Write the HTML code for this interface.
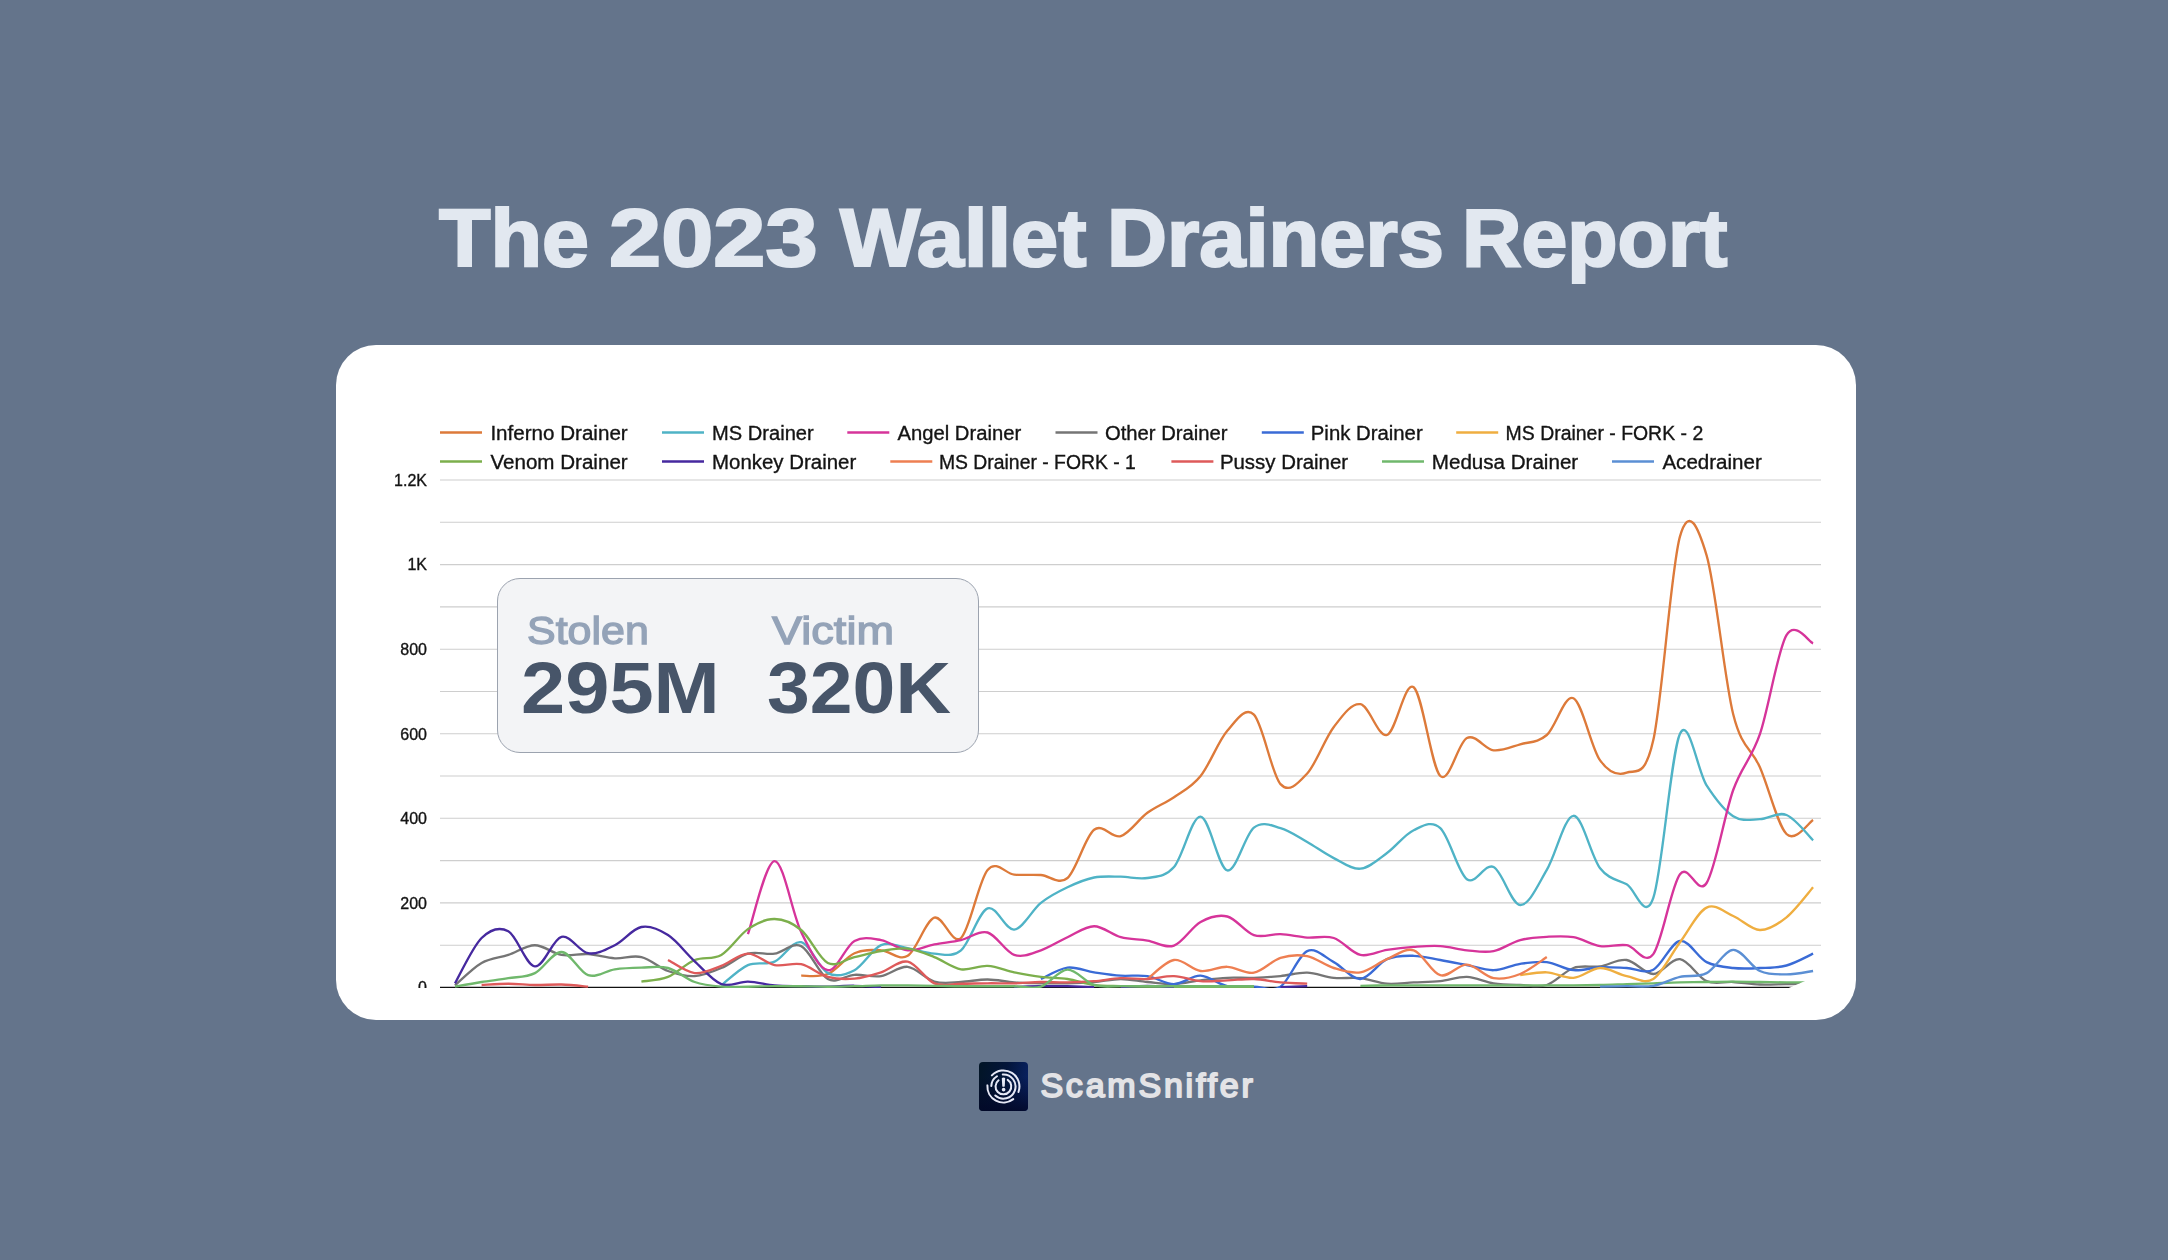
<!DOCTYPE html>
<html lang="en">
<head>
<meta charset="utf-8">
<title>The 2023 Wallet Drainers Report</title>
<style>
html,body{margin:0;padding:0}
body{width:2168px;height:1260px;background:#64748b;position:relative;overflow:hidden;font-family:"Liberation Sans",sans-serif}
#title{position:absolute;left:0;top:0;margin:0;color:#e2e8f0;font-weight:700;font-size:85px}
#card{position:absolute;left:336px;top:345px;width:1520px;height:675px;background:#fff;border-radius:40px}
#chart{position:absolute;left:0;top:0;width:2168px;height:988px;overflow:hidden}
#chart svg{position:absolute;left:0;top:0;filter:blur(0.45px)}
#chart text{font-family:"Liberation Sans",sans-serif;fill:#141414;stroke:#141414;stroke-width:0.35px}
#stats{position:absolute;left:497px;top:578px;width:480px;height:173px;background:#f3f4f6;border:1px solid #9ca3af;border-radius:23px;}
.lab{color:#94a3b8}
.val{color:#475569}
#logo{position:absolute;left:979px;top:1062px;width:48.6px;height:48.6px;border-radius:4px;overflow:hidden;background:linear-gradient(100deg,#021526 0%,#03153a 50%,#0a2468 100%)}
#logo:after{content:"";position:absolute;left:0;top:0;right:0;bottom:0;background:linear-gradient(180deg,rgba(2,8,40,0) 30%,rgba(2,8,40,0.9) 100%)}
#logo svg{position:absolute;left:0;top:0;z-index:1}
.brand{color:#e3e3e6}
</style>
</head>
<body>
<h1 id="title"><span class="" style="position:absolute;left:439.10px;top:196.90px;font-size:81.75px;line-height:81.75px;font-weight:700;white-space:nowrap;transform-origin:0 0;transform:scaleX(1.0321);-webkit-text-stroke:2.20px #e2e8f0;">The</span> <span class="" style="position:absolute;left:608.57px;top:196.90px;font-size:81.75px;line-height:81.75px;font-weight:700;white-space:nowrap;transform-origin:0 0;transform:scaleX(1.1469);-webkit-text-stroke:2.20px #e2e8f0;">2023</span> <span class="" style="position:absolute;left:839.80px;top:196.90px;font-size:81.75px;line-height:81.75px;font-weight:700;white-space:nowrap;transform-origin:0 0;transform:scaleX(1.0367);-webkit-text-stroke:2.20px #e2e8f0;">Wallet</span> <span class="" style="position:absolute;left:1106.61px;top:196.90px;font-size:81.75px;line-height:81.75px;font-weight:700;white-space:nowrap;transform-origin:0 0;transform:scaleX(1.0156);-webkit-text-stroke:2.20px #e2e8f0;">Drainers</span> <span class="" style="position:absolute;left:1462.05px;top:196.90px;font-size:81.75px;line-height:81.75px;font-weight:700;white-space:nowrap;transform-origin:0 0;transform:scaleX(1.0074);-webkit-text-stroke:2.20px #e2e8f0;">Report</span></h1>
<div id="card"></div>
<div id="chart">
<svg width="2168" height="1260" viewBox="0 0 2168 1260">
<defs><clipPath id="cut"><polygon points="0,0 2168,0 2168,977 1814.5,977 1787.5,988.5 0,988.5"/></clipPath></defs>
<g stroke="#cecece" stroke-width="1.1" fill="none">
<line x1="440" x2="1821" y1="480.0" y2="480.0"/>
<line x1="440" x2="1821" y1="522.3" y2="522.3"/>
<line x1="440" x2="1821" y1="564.6" y2="564.6"/>
<line x1="440" x2="1821" y1="606.9" y2="606.9"/>
<line x1="440" x2="1821" y1="649.2" y2="649.2"/>
<line x1="440" x2="1821" y1="691.5" y2="691.5"/>
<line x1="440" x2="1821" y1="733.7" y2="733.7"/>
<line x1="440" x2="1821" y1="776.0" y2="776.0"/>
<line x1="440" x2="1821" y1="818.3" y2="818.3"/>
<line x1="440" x2="1821" y1="860.6" y2="860.6"/>
<line x1="440" x2="1821" y1="902.9" y2="902.9"/>
<line x1="440" x2="1821" y1="945.2" y2="945.2"/>
</g>
<line x1="440" x2="1821" y1="987.6" y2="987.6" stroke="#111" stroke-width="1.6" clip-path="url(#cut)"/>
<g font-size="16" >
<text x="427" y="485.8" text-anchor="end">1.2K</text>
<text x="427" y="570.4" text-anchor="end">1K</text>
<text x="427" y="655.0" text-anchor="end">800</text>
<text x="427" y="739.5" text-anchor="end">600</text>
<text x="427" y="824.1" text-anchor="end">400</text>
<text x="427" y="908.7" text-anchor="end">200</text>
<text x="427" y="993.3" text-anchor="end">0</text>
</g>
<g font-size="20">
<line x1="440.0" y1="432.6" x2="482.0" y2="432.6" stroke="#dd7a3a" stroke-width="2.5"/>
<text x="490.4" y="439.8" textLength="137.3" lengthAdjust="spacingAndGlyphs">Inferno Drainer</text>
<line x1="662.0" y1="432.6" x2="704.0" y2="432.6" stroke="#4fb3c6" stroke-width="2.5"/>
<text x="712.1" y="439.8" textLength="101.6" lengthAdjust="spacingAndGlyphs">MS Drainer</text>
<line x1="847.3" y1="432.6" x2="889.3" y2="432.6" stroke="#d6349a" stroke-width="2.5"/>
<text x="897.5" y="439.8" textLength="123.7" lengthAdjust="spacingAndGlyphs">Angel Drainer</text>
<line x1="1055.5" y1="432.6" x2="1097.5" y2="432.6" stroke="#757575" stroke-width="2.5"/>
<text x="1104.9" y="439.8" textLength="122.6" lengthAdjust="spacingAndGlyphs">Other Drainer</text>
<line x1="1261.8" y1="432.6" x2="1303.8" y2="432.6" stroke="#3a6bd6" stroke-width="2.5"/>
<text x="1310.8" y="439.8" textLength="111.9" lengthAdjust="spacingAndGlyphs">Pink Drainer</text>
<line x1="1456.2" y1="432.6" x2="1498.2" y2="432.6" stroke="#efae40" stroke-width="2.5"/>
<text x="1505.6" y="439.8" textLength="197.6" lengthAdjust="spacingAndGlyphs">MS Drainer - FORK - 2</text>
<line x1="440.0" y1="461.6" x2="482.0" y2="461.6" stroke="#7caf4c" stroke-width="2.5"/>
<text x="490.4" y="468.8" textLength="137.3" lengthAdjust="spacingAndGlyphs">Venom Drainer</text>
<line x1="662.0" y1="461.6" x2="704.0" y2="461.6" stroke="#46299f" stroke-width="2.5"/>
<text x="712.1" y="468.8" textLength="144.1" lengthAdjust="spacingAndGlyphs">Monkey Drainer</text>
<line x1="890.3" y1="461.6" x2="932.3" y2="461.6" stroke="#ee7f52" stroke-width="2.5"/>
<text x="938.9" y="468.8" textLength="197.0" lengthAdjust="spacingAndGlyphs">MS Drainer - FORK - 1</text>
<line x1="1171.4" y1="461.6" x2="1213.4" y2="461.6" stroke="#de5a5a" stroke-width="2.5"/>
<text x="1219.9" y="468.8" textLength="128.2" lengthAdjust="spacingAndGlyphs">Pussy Drainer</text>
<line x1="1382.0" y1="461.6" x2="1424.0" y2="461.6" stroke="#70b86c" stroke-width="2.5"/>
<text x="1431.8" y="468.8" textLength="146.4" lengthAdjust="spacingAndGlyphs">Medusa Drainer</text>
<line x1="1612.0" y1="461.6" x2="1654.0" y2="461.6" stroke="#5b8fd4" stroke-width="2.5"/>
<text x="1662.4" y="468.8" textLength="99.4" lengthAdjust="spacingAndGlyphs">Acedrainer</text>
</g>
<g fill="none" stroke-width="2.35" stroke-linecap="butt" stroke-linejoin="round" clip-path="url(#cut)">
<path d="M801.2 975.7C805.6 975.4 818.9 977.7 827.8 974.0C836.7 970.2 845.6 957.2 854.5 953.2C863.3 949.3 872.2 949.9 881.1 950.3C890.0 950.7 898.8 961.2 907.7 955.8C916.6 950.4 925.5 920.7 934.3 917.7C943.2 914.8 952.1 946.0 961.0 938.0C969.8 930.1 978.7 880.5 987.6 869.9C996.5 859.4 1005.4 873.7 1014.2 874.6C1023.1 875.4 1032.0 874.4 1040.9 875.0C1049.7 875.6 1058.6 885.5 1067.5 878.0C1076.4 870.4 1085.2 836.7 1094.1 829.8C1103.0 822.8 1111.9 838.9 1120.8 836.1C1129.6 833.3 1138.5 819.3 1147.4 812.8C1156.3 806.4 1165.1 803.3 1174.0 797.2C1182.9 791.1 1191.8 787.1 1200.6 776.0C1209.5 765.0 1218.4 741.0 1227.3 730.8C1236.1 720.6 1245.0 705.8 1253.9 714.7C1262.8 723.6 1271.7 774.3 1280.5 784.1C1289.4 793.9 1298.3 783.0 1307.2 773.5C1316.0 764.0 1324.9 738.6 1333.8 727.0C1342.7 715.4 1351.5 702.8 1360.4 704.2C1369.3 705.5 1378.2 737.8 1387.0 735.0C1395.9 732.2 1404.8 680.4 1413.7 687.2C1422.6 694.1 1431.4 767.6 1440.3 776.0C1449.2 784.5 1458.1 742.3 1466.9 738.0C1475.8 733.7 1484.7 749.2 1493.6 750.3C1502.4 751.3 1511.3 746.9 1520.2 744.3C1529.1 741.8 1538.0 742.7 1546.8 735.0C1555.7 727.3 1564.6 694.0 1573.5 698.2C1582.3 702.5 1591.2 748.0 1600.1 760.4C1609.0 772.8 1617.8 776.0 1626.7 772.7C1635.6 769.3 1644.5 779.5 1653.3 740.1C1662.2 700.7 1671.1 567.1 1680.0 536.3C1688.9 505.5 1697.7 525.6 1706.6 555.3C1715.5 585.0 1724.4 679.0 1733.2 714.3C1742.1 749.6 1751.0 747.2 1759.9 767.2C1768.7 787.1 1777.6 825.2 1786.5 834.0C1795.4 842.8 1808.7 822.4 1813.1 820.0" stroke="#dd7a3a"/>
<path d="M721.3 985.4C725.7 982.0 739.1 969.0 747.9 965.1C756.8 961.1 765.7 965.5 774.6 961.7C783.4 957.9 792.3 940.3 801.2 942.2C810.1 944.2 818.9 968.5 827.8 973.1C836.7 977.8 845.6 974.8 854.5 970.2C863.3 965.5 872.2 948.9 881.1 945.2C890.0 941.5 898.8 946.8 907.7 948.2C916.6 949.6 925.5 953.3 934.3 953.7C943.2 954.0 952.1 957.8 961.0 950.3C969.8 942.7 978.7 911.9 987.6 908.4C996.5 905.0 1005.4 930.5 1014.2 929.6C1023.1 928.6 1032.0 910.0 1040.9 902.9C1049.7 895.9 1058.6 891.5 1067.5 887.3C1076.4 883.0 1085.2 879.3 1094.1 877.5C1103.0 875.8 1111.9 876.6 1120.8 876.7C1129.6 876.8 1138.5 879.6 1147.4 878.0C1156.3 876.3 1165.1 877.2 1174.0 867.0C1182.9 856.8 1191.8 816.1 1200.6 816.6C1209.5 817.2 1218.4 868.5 1227.3 870.4C1236.1 872.2 1245.0 834.7 1253.9 827.6C1262.8 820.6 1271.7 825.7 1280.5 828.1C1289.4 830.5 1298.3 837.0 1307.2 842.0C1316.0 847.0 1324.9 853.7 1333.8 858.1C1342.7 862.5 1351.5 869.5 1360.4 868.7C1369.3 867.8 1378.2 859.4 1387.0 853.0C1395.9 846.6 1404.8 834.3 1413.7 830.2C1422.6 826.0 1431.4 819.9 1440.3 828.1C1449.2 836.2 1458.1 872.8 1466.9 879.2C1475.8 885.7 1484.7 862.7 1493.6 867.0C1502.4 871.3 1511.3 904.5 1520.2 905.0C1529.1 905.5 1538.0 884.8 1546.8 869.9C1555.7 855.1 1564.6 816.1 1573.5 815.8C1582.3 815.5 1591.2 856.8 1600.1 868.2C1609.0 879.7 1617.8 879.4 1626.7 884.3C1635.6 889.2 1644.5 922.9 1653.3 897.8C1662.2 872.8 1671.1 752.5 1680.0 733.8C1688.9 715.0 1697.7 771.6 1706.6 785.4C1715.5 799.1 1724.4 810.6 1733.2 816.2C1742.1 821.9 1751.0 819.4 1759.9 819.2C1768.7 819.0 1777.6 811.4 1786.5 815.0C1795.4 818.5 1808.7 836.1 1813.1 840.3" stroke="#4fb3c6"/>
<path d="M747.9 934.2C752.4 922.0 765.7 861.4 774.6 861.1C783.4 860.7 792.3 913.9 801.2 932.1C810.1 950.3 818.9 968.7 827.8 970.2C836.7 971.6 845.6 946.0 854.5 941.0C863.3 936.0 872.2 938.6 881.1 940.1C890.0 941.7 898.8 949.6 907.7 950.3C916.6 951.0 925.5 946.1 934.3 944.4C943.2 942.7 952.1 942.1 961.0 940.1C969.8 938.2 978.7 930.1 987.6 932.5C996.5 935.0 1005.4 952.0 1014.2 954.9C1023.1 957.9 1032.0 953.2 1040.9 950.3C1049.7 947.3 1058.6 941.2 1067.5 937.2C1076.4 933.2 1085.2 926.2 1094.1 926.2C1103.0 926.2 1111.9 934.8 1120.8 937.2C1129.6 939.6 1138.5 939.1 1147.4 940.6C1156.3 942.0 1165.1 948.7 1174.0 945.6C1182.9 942.5 1191.8 926.8 1200.6 922.0C1209.5 917.1 1218.4 914.3 1227.3 916.5C1236.1 918.6 1245.0 932.1 1253.9 935.1C1262.8 938.0 1271.7 933.8 1280.5 934.2C1289.4 934.6 1298.3 937.0 1307.2 937.6C1316.0 938.2 1324.9 935.1 1333.8 938.0C1342.7 940.9 1351.5 953.0 1360.4 954.9C1369.3 956.9 1378.2 951.2 1387.0 949.9C1395.9 948.5 1404.8 947.5 1413.7 946.9C1422.6 946.3 1431.4 945.5 1440.3 946.1C1449.2 946.6 1458.1 949.4 1466.9 950.3C1475.8 951.1 1484.7 952.8 1493.6 951.1C1502.4 949.4 1511.3 942.5 1520.2 940.1C1529.1 937.7 1538.0 937.2 1546.8 936.8C1555.7 936.3 1564.6 935.6 1573.5 937.2C1582.3 938.7 1591.2 944.7 1600.1 946.1C1609.0 947.4 1617.8 943.9 1626.7 945.2C1635.6 946.5 1644.5 965.9 1653.3 954.1C1662.2 942.2 1671.1 886.0 1680.0 874.2C1688.9 862.3 1697.7 897.1 1706.6 883.0C1715.5 869.0 1724.4 814.8 1733.2 790.0C1742.1 765.2 1751.0 760.0 1759.9 734.2C1768.7 708.4 1777.6 650.4 1786.5 635.2C1795.4 620.1 1808.7 641.9 1813.1 643.3" stroke="#d6349a"/>
<path d="M455.0 985.4C459.4 981.6 472.8 968.0 481.6 963.0C490.5 957.9 499.4 957.9 508.3 954.9C517.1 952.0 526.0 945.2 534.9 945.2C543.8 945.2 552.6 953.5 561.5 954.9C570.4 956.4 579.3 953.5 588.1 954.1C597.0 954.7 605.9 957.8 614.8 958.3C623.7 958.8 632.5 954.9 641.4 957.1C650.3 959.2 659.2 967.8 668.0 971.0C676.9 974.2 685.8 976.6 694.7 976.1C703.5 975.6 712.4 971.8 721.3 968.0C730.2 964.3 739.1 956.1 747.9 953.7C756.8 951.3 765.7 954.9 774.6 953.7C783.4 952.4 792.3 941.8 801.2 946.1C810.1 950.3 818.9 974.2 827.8 979.0C836.7 983.8 845.6 975.3 854.5 974.8C863.3 974.3 872.2 977.4 881.1 976.1C890.0 974.7 898.8 965.9 907.7 966.8C916.6 967.7 925.5 979.0 934.3 981.6C943.2 984.1 952.1 982.4 961.0 982.0C969.8 981.6 978.7 979.4 987.6 979.5C996.5 979.5 1005.4 981.8 1014.2 982.4C1023.1 983.1 1032.0 983.1 1040.9 983.3C1049.7 983.4 1058.6 983.5 1067.5 983.3C1076.4 983.1 1085.2 982.7 1094.1 982.0C1103.0 981.3 1111.9 979.0 1120.8 979.0C1129.6 979.0 1138.5 981.2 1147.4 982.0C1156.3 982.8 1165.1 984.4 1174.0 984.1C1182.9 983.8 1191.8 981.4 1200.6 980.3C1209.5 979.3 1218.4 978.2 1227.3 977.8C1236.1 977.4 1245.0 978.1 1253.9 977.8C1262.8 977.5 1271.7 976.9 1280.5 976.1C1289.4 975.2 1298.3 972.4 1307.2 972.7C1316.0 973.0 1324.9 976.9 1333.8 977.8C1342.7 978.7 1351.5 977.2 1360.4 978.2C1369.3 979.2 1378.2 983.0 1387.0 983.7C1395.9 984.4 1404.8 982.8 1413.7 982.4C1422.6 982.0 1431.4 982.1 1440.3 981.2C1449.2 980.2 1458.1 976.6 1466.9 976.9C1475.8 977.3 1484.7 981.9 1493.6 983.3C1502.4 984.6 1511.3 984.7 1520.2 985.0C1529.1 985.2 1538.0 987.8 1546.8 985.0C1555.7 982.1 1564.6 971.1 1573.5 968.0C1582.3 964.9 1591.2 967.7 1600.1 966.4C1609.0 965.0 1617.8 958.7 1626.7 960.0C1635.6 961.3 1644.5 974.1 1653.3 974.0C1662.2 973.8 1671.1 958.0 1680.0 959.2C1688.9 960.4 1697.7 977.4 1706.6 981.2C1715.5 985.0 1724.4 981.4 1733.2 982.0C1742.1 982.6 1751.0 984.2 1759.9 984.5C1768.7 984.9 1777.6 984.2 1786.5 984.1C1795.4 984.0 1808.7 984.1 1813.1 984.1" stroke="#757575"/>
<path d="M1040.9 979.0C1045.3 977.1 1058.6 968.8 1067.5 967.6C1076.4 966.5 1085.2 970.9 1094.1 972.3C1103.0 973.6 1111.9 975.0 1120.8 975.7C1129.6 976.3 1138.5 974.7 1147.4 976.1C1156.3 977.5 1165.1 984.2 1174.0 984.1C1182.9 984.0 1191.8 975.3 1200.6 975.7C1209.5 976.0 1218.4 984.4 1227.3 986.2C1236.1 988.1 1245.0 986.6 1253.9 986.7C1262.8 986.7 1271.7 992.6 1280.5 986.7C1289.4 980.7 1298.3 955.2 1307.2 951.1C1316.0 947.0 1324.9 957.5 1333.8 962.1C1342.7 966.8 1351.5 979.5 1360.4 979.0C1369.3 978.5 1378.2 963.0 1387.0 959.2C1395.9 955.3 1404.8 955.6 1413.7 955.8C1422.6 955.9 1431.4 958.5 1440.3 960.0C1449.2 961.6 1458.1 963.4 1466.9 965.1C1475.8 966.8 1484.7 970.4 1493.6 970.2C1502.4 969.9 1511.3 965.2 1520.2 963.8C1529.1 962.5 1538.0 961.1 1546.8 962.1C1555.7 963.2 1564.6 969.3 1573.5 970.2C1582.3 971.0 1591.2 967.6 1600.1 967.2C1609.0 966.8 1617.8 967.6 1626.7 968.0C1635.6 968.5 1644.5 974.2 1653.3 969.7C1662.2 965.2 1671.1 942.2 1680.0 941.0C1688.9 939.7 1697.7 957.6 1706.6 962.1C1715.5 966.6 1724.4 967.1 1733.2 968.0C1742.1 969.0 1751.0 968.5 1759.9 968.0C1768.7 967.6 1777.6 967.9 1786.5 965.5C1795.4 963.1 1808.7 955.6 1813.1 953.7" stroke="#3a6bd6"/>
<path d="M1520.2 975.2C1524.6 974.7 1538.0 971.9 1546.8 972.3C1555.7 972.7 1564.6 978.5 1573.5 977.8C1582.3 977.1 1591.2 968.3 1600.1 968.0C1609.0 967.8 1617.8 974.2 1626.7 976.1C1635.6 977.9 1644.5 984.7 1653.3 979.0C1662.2 973.4 1671.1 954.2 1680.0 942.2C1688.9 930.3 1697.7 911.9 1706.6 907.6C1715.5 903.2 1724.4 912.3 1733.2 916.0C1742.1 919.8 1751.0 929.8 1759.9 930.0C1768.7 930.2 1777.6 924.4 1786.5 917.3C1795.4 910.2 1808.7 892.3 1813.1 887.3" stroke="#efae40"/>
<path d="M641.4 981.6C645.8 980.8 659.2 980.5 668.0 976.9C676.9 973.3 685.8 963.7 694.7 960.0C703.5 956.3 712.4 960.1 721.3 954.9C730.2 949.8 739.1 935.1 747.9 929.1C756.8 923.1 765.7 918.8 774.6 919.0C783.4 919.1 792.3 922.7 801.2 930.0C810.1 937.3 818.9 958.5 827.8 963.0C836.7 967.5 845.6 959.0 854.5 957.1C863.3 955.1 872.2 952.5 881.1 951.1C890.0 949.7 898.8 947.6 907.7 948.6C916.6 949.6 925.5 953.6 934.3 957.1C943.2 960.5 952.1 967.8 961.0 969.3C969.8 970.8 978.7 965.4 987.6 965.9C996.5 966.4 1005.4 970.4 1014.2 972.3C1023.1 974.1 1032.0 975.8 1040.9 976.9C1049.7 978.1 1058.6 977.7 1067.5 979.0C1076.4 980.4 1085.2 983.8 1094.1 985.0C1103.0 986.2 1111.9 985.9 1120.8 986.2C1129.6 986.5 1138.5 986.6 1147.4 986.7C1156.3 986.7 1165.1 986.7 1174.0 986.7C1182.9 986.7 1191.8 986.7 1200.6 986.7C1209.5 986.7 1218.4 986.7 1227.3 986.7C1236.1 986.7 1249.5 986.7 1253.9 986.7" stroke="#7caf4c"/>
<path d="M455.0 983.3C459.4 975.7 472.8 946.7 481.6 938.0C490.5 929.4 499.4 926.5 508.3 931.3C517.1 936.0 526.0 965.4 534.9 966.4C543.8 967.3 552.6 938.9 561.5 936.8C570.4 934.6 579.3 951.8 588.1 953.2C597.0 954.7 605.9 949.6 614.8 945.2C623.7 940.8 632.5 928.7 641.4 927.0C650.3 925.3 659.2 929.4 668.0 935.1C676.9 940.8 685.8 953.1 694.7 961.3C703.5 969.5 712.4 980.7 721.3 984.1C730.2 987.5 739.1 981.4 747.9 981.6C756.8 981.8 765.7 984.6 774.6 985.4C783.4 986.2 792.3 986.0 801.2 986.2C810.1 986.4 818.9 986.7 827.8 986.7C836.7 986.6 845.6 985.7 854.5 985.8C863.3 985.9 876.6 986.9 881.1 987.1" stroke="#46299f"/>
<path d="M1014.2 987.1C1018.7 986.9 1032.0 986.4 1040.9 986.2C1049.7 986.1 1058.6 986.1 1067.5 986.2C1076.4 986.4 1089.7 986.9 1094.1 987.1" stroke="#46299f"/>
<path d="M1120.8 987.1C1125.2 986.9 1138.5 985.8 1147.4 985.8C1156.3 985.8 1169.6 986.9 1174.0 987.1" stroke="#46299f"/>
<path d="M1280.5 987.1C1285.0 986.9 1302.7 986.4 1307.2 986.2" stroke="#46299f"/>
<path d="M1147.4 979.0C1151.8 975.9 1165.1 961.4 1174.0 960.0C1182.9 958.7 1191.8 969.9 1200.6 971.0C1209.5 972.1 1218.4 966.5 1227.3 966.8C1236.1 967.1 1245.0 974.2 1253.9 972.7C1262.8 971.2 1271.7 960.6 1280.5 957.9C1289.4 955.1 1298.3 954.5 1307.2 956.2C1316.0 957.9 1324.9 965.4 1333.8 968.0C1342.7 970.7 1351.5 973.8 1360.4 972.3C1369.3 970.8 1378.2 962.8 1387.0 959.2C1395.9 955.5 1404.8 947.6 1413.7 950.3C1422.6 953.0 1431.4 972.8 1440.3 975.2C1449.2 977.6 1458.1 964.2 1466.9 964.7C1475.8 965.2 1484.7 976.6 1493.6 978.2C1502.4 979.7 1511.3 977.5 1520.2 974.0C1529.1 970.4 1542.4 959.9 1546.8 957.1" stroke="#ee7f52"/>
<path d="M481.6 985.0C486.1 984.8 499.4 983.7 508.3 983.7C517.1 983.7 526.0 984.8 534.9 985.0C543.8 985.1 552.6 984.3 561.5 984.5C570.4 984.8 583.7 986.3 588.1 986.7" stroke="#de5a5a"/>
<path d="M668.0 960.0C672.5 962.2 685.8 972.1 694.7 973.1C703.5 974.1 712.4 969.2 721.3 965.9C730.2 962.7 739.1 953.8 747.9 953.7C756.8 953.5 765.7 963.3 774.6 965.1C783.4 966.8 792.3 962.3 801.2 964.2C810.1 966.2 818.9 974.5 827.8 976.9C836.7 979.3 845.6 979.4 854.5 978.6C863.3 977.8 872.2 975.1 881.1 972.3C890.0 969.5 898.8 959.9 907.7 961.7C916.6 963.5 925.5 979.6 934.3 983.3C943.2 986.9 952.1 983.7 961.0 983.7C969.8 983.7 978.7 983.3 987.6 983.3C996.5 983.2 1005.4 983.5 1014.2 983.3C1023.1 983.1 1032.0 982.1 1040.9 982.0C1049.7 981.9 1058.6 982.6 1067.5 982.4C1076.4 982.3 1085.2 981.9 1094.1 981.2C1103.0 980.5 1111.9 978.5 1120.8 978.2C1129.6 977.8 1138.5 979.4 1147.4 979.0C1156.3 978.7 1165.1 975.7 1174.0 976.1C1182.9 976.4 1191.8 980.5 1200.6 981.2C1209.5 981.9 1218.4 980.7 1227.3 980.3C1236.1 980.0 1245.0 978.7 1253.9 979.0C1262.8 979.4 1271.7 981.6 1280.5 982.4C1289.4 983.2 1302.7 983.5 1307.2 983.7" stroke="#de5a5a"/>
<path d="M455.0 986.7C459.4 985.9 472.8 983.4 481.6 982.0C490.5 980.6 499.4 979.7 508.3 978.2C517.1 976.7 526.0 977.5 534.9 973.1C543.8 968.8 552.6 951.6 561.5 952.0C570.4 952.3 579.3 972.3 588.1 975.2C597.0 978.1 605.9 970.6 614.8 969.3C623.7 968.0 632.5 967.8 641.4 967.6C650.3 967.4 659.2 965.7 668.0 968.0C676.9 970.4 685.8 978.9 694.7 982.0C703.5 985.1 712.4 985.9 721.3 986.7C730.2 987.4 739.1 986.7 747.9 986.7C756.8 986.6 765.7 986.3 774.6 986.2C783.4 986.2 792.3 986.2 801.2 986.2C810.1 986.3 818.9 986.7 827.8 986.7C836.7 986.7 845.6 986.4 854.5 986.2C863.3 986.0 872.2 985.5 881.1 985.4C890.0 985.2 898.8 985.3 907.7 985.4C916.6 985.5 925.5 985.7 934.3 985.8C943.2 985.9 952.1 986.2 961.0 986.2C969.8 986.3 978.7 986.2 987.6 986.2C996.5 986.2 1005.4 986.2 1014.2 986.2C1023.1 986.3 1032.0 989.4 1040.9 986.7C1049.7 983.9 1058.6 970.0 1067.5 969.7C1076.4 969.5 1085.2 982.2 1094.1 985.0C1103.0 987.7 1111.9 986.0 1120.8 986.2C1129.6 986.4 1138.5 986.2 1147.4 986.2C1156.3 986.2 1165.1 986.2 1174.0 986.2C1182.9 986.2 1191.8 986.2 1200.6 986.2C1209.5 986.2 1218.4 986.2 1227.3 986.2C1236.1 986.2 1249.5 986.2 1253.9 986.2" stroke="#70b86c"/>
<path d="M1360.4 985.8C1364.9 985.7 1378.2 985.5 1387.0 985.4C1395.9 985.3 1404.8 985.4 1413.7 985.4C1422.6 985.4 1431.4 985.4 1440.3 985.4C1449.2 985.4 1458.1 985.4 1466.9 985.4C1475.8 985.4 1484.7 985.4 1493.6 985.4C1502.4 985.4 1511.3 985.4 1520.2 985.4C1529.1 985.4 1538.0 985.4 1546.8 985.4C1555.7 985.4 1564.6 985.5 1573.5 985.4C1582.3 985.3 1591.2 985.2 1600.1 985.0C1609.0 984.8 1617.8 984.4 1626.7 984.1C1635.6 983.8 1644.5 983.6 1653.3 983.3C1662.2 983.0 1671.1 982.6 1680.0 982.4C1688.9 982.2 1697.7 982.1 1706.6 982.0C1715.5 981.9 1724.4 981.6 1733.2 981.6C1742.1 981.6 1751.0 981.9 1759.9 982.0C1768.7 982.1 1777.6 982.4 1786.5 982.4C1795.4 982.5 1808.7 982.4 1813.1 982.4" stroke="#70b86c"/>
<path d="M1600.1 986.7C1604.5 986.6 1617.8 986.4 1626.7 986.2C1635.6 986.1 1644.5 987.4 1653.3 985.8C1662.2 984.3 1671.1 979.0 1680.0 976.9C1688.9 974.8 1697.7 977.6 1706.6 973.1C1715.5 968.6 1724.4 950.2 1733.2 949.9C1742.1 949.5 1751.0 966.9 1759.9 971.0C1768.7 975.1 1777.6 974.4 1786.5 974.4C1795.4 974.4 1808.7 971.6 1813.1 971.0" stroke="#5b8fd4"/>
</g>
</svg>
</div>
<div id="stats"></div>
<div id="statstext">
<span class="lab" style="position:absolute;left:527.31px;top:612.10px;font-size:38.69px;line-height:38.69px;font-weight:400;white-space:nowrap;transform-origin:0 0;transform:scaleX(1.1108);-webkit-text-stroke:1.30px #94a3b8;">Stolen</span>
<span class="val" style="position:absolute;left:521.12px;top:652.35px;font-size:72.00px;line-height:72.00px;font-weight:700;white-space:nowrap;transform-origin:0 0;transform:scaleX(1.1038);">295M</span>
<span class="lab" style="position:absolute;left:772.35px;top:610.55px;font-size:38.98px;line-height:38.98px;font-weight:400;white-space:nowrap;transform-origin:0 0;transform:scaleX(1.1577);-webkit-text-stroke:1.30px #94a3b8;">Victim</span>
<span class="val" style="position:absolute;left:766.80px;top:652.35px;font-size:72.00px;line-height:72.00px;font-weight:700;white-space:nowrap;transform-origin:0 0;transform:scaleX(1.0688);">320K</span>
</div>
<div id="logo">
<svg width="49" height="49" viewBox="0 0 48.6 48.6">
<g fill="none" stroke="#e6e8f6" stroke-width="2.0" stroke-linecap="round">
<path d="M28.45 17.76 A7.80 7.80 0 1 1 19.40 18.15"/>
<path d="M23.57 12.32 A12.00 12.00 0 1 1 16.17 33.22"/>
<path d="M12.21 23.88 A12.00 12.00 0 0 1 17.84 14.12"/>
<path d="M12.76 13.25 A15.90 15.90 0 0 1 39.14 29.74"/>
<path d="M33.99 36.83 A15.90 15.90 0 0 1 8.34 23.19"/>
</g>
<path d="M22.6 15.9 Q24.3 14.8 26.0 15.9 L25.5 24.2 Q24.3 25.0 23.1 24.2 Z" fill="#e6e8f6"/>
<circle cx="24.4" cy="27.4" r="1.8" fill="#e6e8f6"/>
</svg>
</div>
<svg class="brand" style="position:absolute;left:0;top:0;overflow:visible" width="2168" height="1260" viewBox="0 0 2168 1260"><text x="1040.39" y="1096.95" font-family="Liberation Sans, sans-serif" font-size="34.00" font-weight="400" letter-spacing="2.79" fill="#e3e3e6" stroke="#e3e3e6" stroke-width="1.90" stroke-linejoin="round" stroke-linecap="round">ScamSniffer</text></svg>
</body>
</html>
